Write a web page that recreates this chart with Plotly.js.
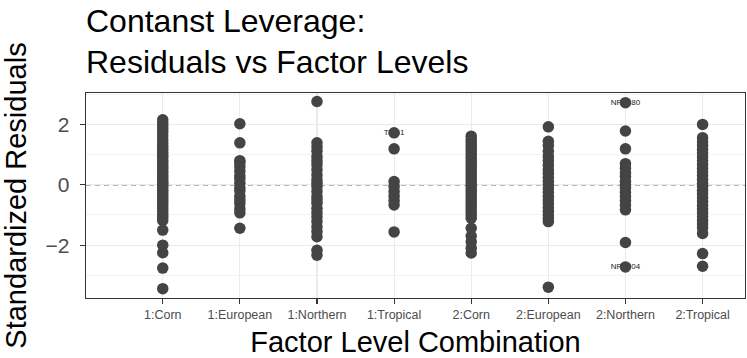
<!DOCTYPE html>
<html>
<head>
<meta charset="utf-8">
<script src="https://cdn.plot.ly/plotly-3.0.1.min.js"></script>
<style>html,body{margin:0;padding:0;background:#fff}#chart{width:747px;height:358px}</style>
</head>
<body>
<div id="chart"></div>
<script>
// Factor level categories (tick labels)
var categories = ["1:Corn", "1:European", "1:Northern", "1:Tropical",
                  "2:Corn", "2:European", "2:Northern", "2:Tropical"];

// Standardized residuals, one array per factor level
var corn1 = [2.15, 2.05, 1.95, 1.85, 1.75, 1.62, 1.5, 1.38, 1.28, 1.18, 1.08, 0.98, 0.9, 0.8,
             0.72, 0.62, 0.55, 0.45, 0.36, 0.28, 0.2, 0.12, 0.05, -0.02, -0.1, -0.18, -0.26,
             -0.35, -0.44, -0.52, -0.6, -0.7, -0.8, -0.9, -1.0, -1.08, -1.18, -1.5, -2.0,
             -2.25, -2.76, -3.44];
var european1 = [2.02, 1.39, 0.8, 0.74, 0.6, 0.45, 0.3, 0.2, 0.05, -0.1, -0.2, -0.38, -0.5,
                 -0.62, -0.8, -0.93, -1.44];
var northern1 = [2.76, 1.39, 1.25, 1.11, 0.94, 0.8, 0.67, 0.5, 0.33, 0.17, 0.05, -0.06, -0.22,
                 -0.39, -0.5, -0.61, -0.78, -0.92, -1.06, -1.22, -1.39, -1.55, -1.72, -2.17, -2.33];
var tropical1 = [1.72, 1.19, 0.11, -0.06, -0.22, -0.38, -0.52, -0.67, -1.56];
var corn2 = [1.61, 1.5, 1.4, 1.3, 1.2, 1.1, 1.0, 0.9, 0.8, 0.7, 0.6, 0.5, 0.4, 0.3, 0.2, 0.1,
             0.0, -0.1, -0.2, -0.3, -0.4, -0.5, -0.6, -0.7, -0.8, -0.9, -1.0, -1.11, -1.44,
             -1.7, -1.89, -2.1, -2.26];
var european2 = [1.92, 1.44, 1.3, 1.11, 0.94, 0.8, 0.65, 0.5, 0.38, 0.25, 0.12, 0.0, -0.12,
                 -0.25, -0.38, -0.5, -0.62, -0.75, -0.88, -1.0, -1.12, -1.22, -3.39];
var northern2 = [2.72, 1.78, 1.19, 0.7, 0.55, 0.4, 0.28, 0.12, 0.0, -0.1, -0.25, -0.39, -0.52,
                 -0.67, -0.83, -1.91, -2.72];
var tropical2 = [2.0, 1.56, 1.42, 1.3, 1.18, 1.05, 0.92, 0.8, 0.68, 0.55, 0.42, 0.3, 0.18, 0.05,
                 -0.05, -0.18, -0.3, -0.42, -0.55, -0.68, -0.8, -0.92, -1.05, -1.18, -1.3,
                 -1.42, -1.61, -2.28, -2.7];

// Labelled observations
var labelCats = ["1:Tropical", "2:Northern", "2:Northern"];
var labelVals = [1.72, 2.72, -2.72];
var labelText = ["Tr_51", "NR_180", "NR_204"];

var groups = [corn1, european1, northern1, tropical1, corn2, european2, northern2, tropical2];
var xs = [], ys = [];
groups.forEach(function (g, i) {
  g.forEach(function (v) { xs.push(categories[i]); ys.push(v); });
});

var traces = [
  {
    type: "scatter", mode: "text", x: labelCats, y: labelVals, text: labelText,
    textposition: "middle center",
    textfont: {family: "Liberation Sans, Arial, sans-serif", size: 8, color: "#222222"},
    hoverinfo: "skip", showlegend: false
  },
  {
    type: "scatter", mode: "markers", x: xs, y: ys,
    marker: {color: "#444444", size: 11.5, line: {width: 0}},
    showlegend: false
  }
];

var font = "Liberation Sans, Arial, Helvetica, sans-serif";
var layout = {
  width: 747, height: 358,
  margin: {l: 86, r: 2, t: 93, b: 60},
  paper_bgcolor: "#ffffff", plot_bgcolor: "#ffffff",
  font: {family: font, color: "#000000"},
  title: {
    text: "Contanst Leverage:<br>Residuals vs Factor Levels",
    font: {family: font, size: 32, color: "#000000"},
    xref: "paper", x: 0, xanchor: "left",
    yref: "container", y: 0.912, yanchor: "top"
  },
  xaxis: {
    type: "category", categoryorder: "array", categoryarray: categories,
    range: [-0.995, 7.55],
    showgrid: true, gridcolor: "#EBEBEB", gridwidth: 1.1,
    showline: true, mirror: true, linecolor: "#333333", linewidth: 1.3,
    ticks: "outside", ticklen: 5, tickwidth: 1.1, tickcolor: "#333333",
    tickfont: {family: font, size: 12.5, color: "#4D4D4D"},
    zeroline: false,
    title: {text: "Factor Level Combination", font: {family: font, size: 29, color: "#000000"}, standoff: 11}
  },
  yaxis: {
    range: [-3.75, 3.04],
    tickmode: "array", tickvals: [-2, 0, 2], ticktext: ["\u22122", "0", "2"],
    minor: {tickvals: [-3, -1, 1, 3], showgrid: true, gridcolor: "#EBEBEB", gridwidth: 0.6, ticks: ""},
    showgrid: true, gridcolor: "#EBEBEB", gridwidth: 1.1,
    showline: true, mirror: true, linecolor: "#333333", linewidth: 1.3,
    ticks: "outside", ticklen: 5, tickwidth: 1.1, tickcolor: "#333333",
    tickfont: {family: font, size: 21, color: "#4D4D4D"},
    ticklabelstandoff: 6,
    zeroline: false,
    title: {text: "Standardized Residuals", font: {family: font, size: 29, color: "#000000"}, standoff: 12}
  },
  shapes: [{
    type: "line", xref: "paper", x0: 0, x1: 1, yref: "y", y0: 0, y1: 0,
    line: {color: "#6E6E6E", width: 1.2, dash: "5px,4px"}, layer: "below"
  }]
};

Plotly.newPlot("chart", traces, layout, {displayModeBar: false, staticPlot: true});
</script>
</body>
</html>
